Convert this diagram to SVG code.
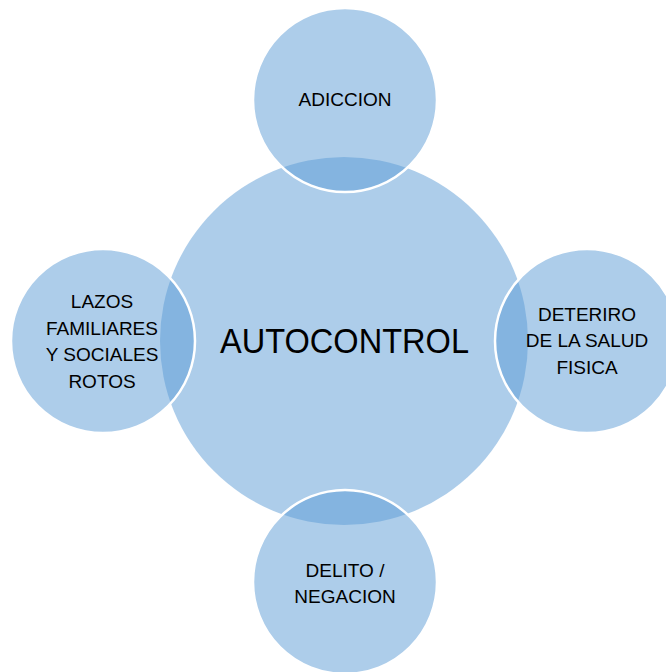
<svg xmlns="http://www.w3.org/2000/svg" width="666" height="672" viewBox="0 0 666 672">
<style>
.c{fill:#5B9BD5;fill-opacity:0.5}
.o{stroke:#FFFFFF;stroke-width:2.5}
text{font-family:"Liberation Sans",Arial,sans-serif;fill:#000;text-anchor:middle}
.s{font-size:19px}
</style>
<rect width="666" height="672" fill="#FFFFFF"/>
<g id="connectors"></g>
<g id="center">
<circle class="c" cx="344" cy="341" r="184"/>
<text x="344.5" y="353" font-size="35" textLength="249" lengthAdjust="spacingAndGlyphs">AUTOCONTROL</text>
</g>
<g id="top">
<circle class="c o" cx="345" cy="100" r="92"/>
<text class="s" x="345" y="106">ADICCION</text>
</g>
<g id="right">
<circle class="c o" cx="587" cy="341" r="92"/>
<text class="s" x="587" y="321">DETERIRO</text>
<text class="s" x="587" y="347">DE LA SALUD</text>
<text class="s" x="587" y="374">FISICA</text>
</g>
<g id="bottom">
<circle class="c o" cx="345" cy="582" r="92"/>
<text class="s" x="345" y="577">DELITO /</text>
<text class="s" x="345" y="603">NEGACION</text>
</g>
<g id="left">
<circle class="c o" cx="103" cy="341" r="92"/>
<text class="s" x="102" y="308">LAZOS</text>
<text class="s" x="102" y="334.5">FAMILIARES</text>
<text class="s" x="102" y="361">Y SOCIALES</text>
<text class="s" x="102" y="387.5">ROTOS</text>
</g>
</svg>
